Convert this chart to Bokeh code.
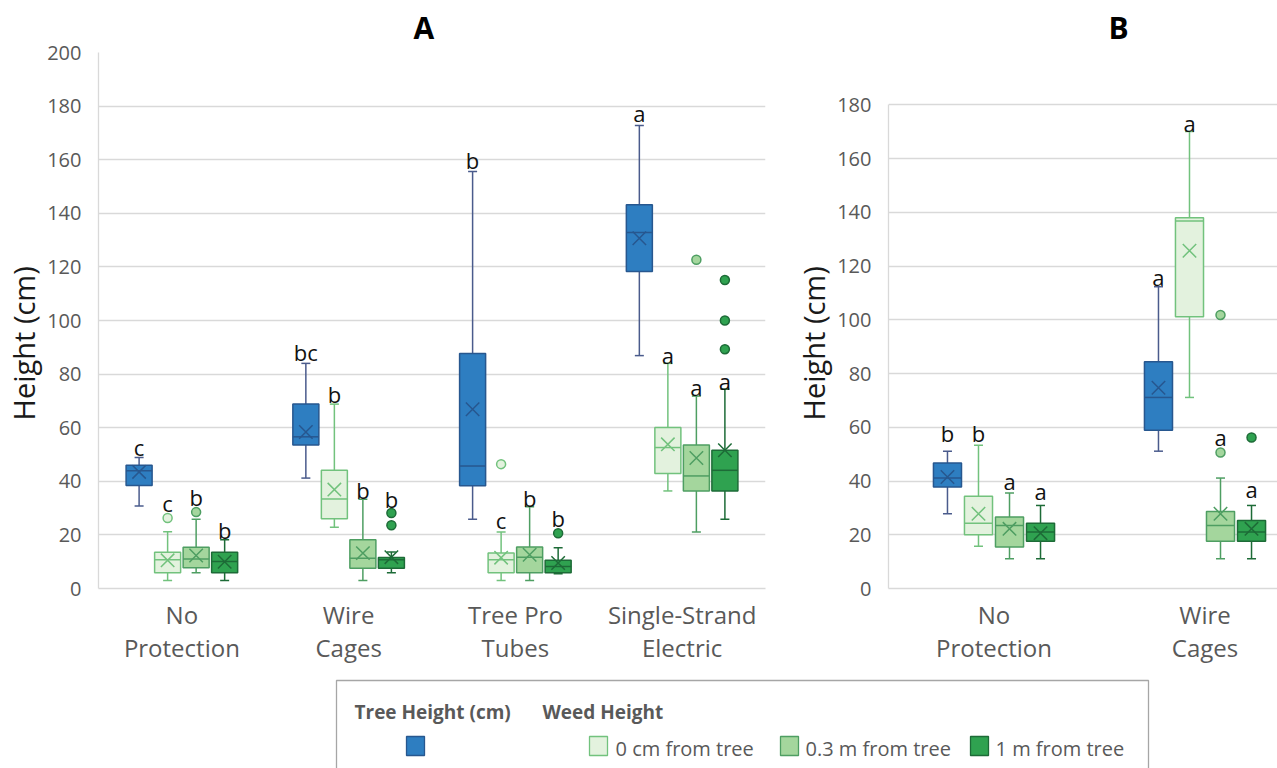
from bokeh.plotting import figure
from bokeh.layouts import column, row
from bokeh.models import Range1d, FixedTicker, Title, ColumnDataSource
from bokeh.core.properties import value
from bokeh.embed import file_html
from bokeh.resources import INLINE

FONT = "Open Sans"
GRID = "#d9d9d9"
TICK_TEXT = "#595959"

series_names = ["Tree Height (cm)", "0 cm from tree", "0.3 m from tree", "1 m from tree"]
fill_colors = ["#2E7EC1", "#E3F2DE", "#A4D69D", "#2FA250"]
edge_colors = ["#27578F", "#72C27D", "#4E9E62", "#1D6B37"]
whisker_colors = ["#4A5B8C", "#72C27D", "#4E9E62", "#1D6B37"]

# ---------------- Panel A: all four protection types ----------------
a_categories = ["No Protection", "Wire Cages", "Tree Pro Tubes", "Single-Strand Electric"]
a_tick_labels = ["No\nProtection", "Wire\nCages", "Tree Pro\nTubes", "Single-Strand\nElectric"]

a_tree_low = [30.8, 41.2, 25.8, 86.9]
a_tree_q1 = [38.4, 53.5, 38.3, 118.3]
a_tree_med = [43.9, 56.6, 45.7, 132.8]
a_tree_q3 = [46.0, 68.8, 87.7, 143.2]
a_tree_high = [48.9, 84.0, 155.6, 172.8]
a_tree_mean = [43.5, 58.4, 66.9, 130.7]
a_tree_letters = ["c", "bc", "b", "a"]
a_tree_letter_y = [52.7, 88.3, 160.0, 177.4]
a_tree_out_cat = []
a_tree_out_val = []

a_w0_low = [3.0, 22.9, 3.0, 36.4]
a_w0_q1 = [5.9, 26.0, 5.9, 42.9]
a_w0_med = [10.7, 33.4, 10.7, 52.6]
a_w0_q3 = [13.5, 44.1, 13.2, 60.1]
a_w0_high = [21.2, 68.8, 21.1, 84.0]
a_w0_mean = [10.5, 36.9, 11.5, 53.8]
a_w0_letters = ["c", "b", "c", "a"]
a_w0_letter_y = [31.9, 72.5, 25.4, 87.1]
a_w0_out_cat = [0, 2]
a_w0_out_val = [26.3, 46.4]

a_w03_low = [5.9, 3.0, 3.0, 21.1]
a_w03_q1 = [7.7, 7.6, 5.9, 36.4]
a_w03_med = [11.0, 11.3, 11.7, 42.0]
a_w03_q3 = [15.4, 18.2, 15.5, 53.5]
a_w03_high = [25.8, 33.3, 30.5, 71.8]
a_w03_mean = [12.3, 13.2, 12.6, 48.7]
a_w03_letters = ["b", "b", "b", "a"]
a_w03_letter_y = [34.1, 36.9, 33.9, 75.3]
a_w03_out_cat = [0, 3]
a_w03_out_val = [28.5, 122.7]

a_w1_low = [3.0, 5.9, 5.5, 25.8]
a_w1_q1 = [5.9, 7.6, 5.9, 36.4]
a_w1_med = [10.1, 10.7, 8.2, 44.1]
a_w1_q3 = [13.5, 11.6, 10.5, 51.6]
a_w1_high = [18.2, 13.6, 15.2, 74.4]
a_w1_mean = [10.0, 11.7, 9.5, 51.6]
a_w1_letters = ["b", "b", "b", "a"]
a_w1_letter_y = [21.9, 33.5, 26.4, 77.4]
a_w1_out_cat = [1, 1, 2, 3, 3, 3]
a_w1_out_val = [28.2, 23.6, 20.6, 115.1, 100.0, 89.3]

# ---------------- Panel B: no protection vs. wire cages ----------------
b_categories = ["No Protection", "Wire Cages"]
b_tick_labels = ["No\nProtection", "Wire\nCages"]

b_tree_low = [27.8, 51.1]
b_tree_q1 = [37.8, 58.9]
b_tree_med = [41.1, 71.1]
b_tree_q3 = [46.7, 84.4]
b_tree_high = [51.1, 112.3]
b_tree_mean = [41.5, 74.7]
b_tree_letters = ["b", "a"]
b_tree_letter_y = [57.7, 116.0]
b_tree_out_cat = []
b_tree_out_val = []

b_w0_low = [15.7, 71.1]
b_w0_q1 = [20.0, 101.1]
b_w0_med = [24.3, 136.8]
b_w0_q3 = [34.3, 138.0]
b_w0_high = [53.3, 170.1]
b_w0_mean = [27.8, 125.7]
b_w0_letters = ["b", "a"]
b_w0_letter_y = [58.0, 173.4]
b_w0_out_cat = []
b_w0_out_val = []

b_w03_low = [11.1, 11.1]
b_w03_q1 = [15.4, 17.6]
b_w03_med = [23.4, 23.4]
b_w03_q3 = [26.6, 28.7]
b_w03_high = [35.5, 41.1]
b_w03_mean = [22.2, 27.8]
b_w03_letters = ["a", "a"]
b_w03_letter_y = [40.0, 56.4]
b_w03_out_cat = [1, 1]
b_w03_out_val = [101.8, 50.6]

b_w1_low = [11.1, 11.1]
b_w1_q1 = [17.6, 17.6]
b_w1_med = [21.0, 21.0]
b_w1_q3 = [24.3, 25.3]
b_w1_high = [30.9, 30.9]
b_w1_mean = [20.6, 22.2]
b_w1_letters = ["a", "a"]
b_w1_letter_y = [36.2, 37.2]
b_w1_out_cat = [1]
b_w1_out_val = [56.2]


def pack(low, q1, med, q3, high, mean, letters, letter_y, out_cat, out_val):
    return dict(low=low, q1=q1, med=med, q3=q3, high=high, mean=mean,
                letters=letters, letter_y=letter_y, out_cat=out_cat, out_val=out_val)


a_stats = [
    pack(a_tree_low, a_tree_q1, a_tree_med, a_tree_q3, a_tree_high, a_tree_mean,
         a_tree_letters, a_tree_letter_y, a_tree_out_cat, a_tree_out_val),
    pack(a_w0_low, a_w0_q1, a_w0_med, a_w0_q3, a_w0_high, a_w0_mean,
         a_w0_letters, a_w0_letter_y, a_w0_out_cat, a_w0_out_val),
    pack(a_w03_low, a_w03_q1, a_w03_med, a_w03_q3, a_w03_high, a_w03_mean,
         a_w03_letters, a_w03_letter_y, a_w03_out_cat, a_w03_out_val),
    pack(a_w1_low, a_w1_q1, a_w1_med, a_w1_q3, a_w1_high, a_w1_mean,
         a_w1_letters, a_w1_letter_y, a_w1_out_cat, a_w1_out_val),
]
b_stats = [
    pack(b_tree_low, b_tree_q1, b_tree_med, b_tree_q3, b_tree_high, b_tree_mean,
         b_tree_letters, b_tree_letter_y, b_tree_out_cat, b_tree_out_val),
    pack(b_w0_low, b_w0_q1, b_w0_med, b_w0_q3, b_w0_high, b_w0_mean,
         b_w0_letters, b_w0_letter_y, b_w0_out_cat, b_w0_out_val),
    pack(b_w03_low, b_w03_q1, b_w03_med, b_w03_q3, b_w03_high, b_w03_mean,
         b_w03_letters, b_w03_letter_y, b_w03_out_cat, b_w03_out_val),
    pack(b_w1_low, b_w1_q1, b_w1_med, b_w1_q3, b_w1_high, b_w1_mean,
         b_w1_letters, b_w1_letter_y, b_w1_out_cat, b_w1_out_val),
]

HEIGHT = 672
FRAME_TOP = 52
FRAME_BOTTOM = 84


def make_panel(title, tick_labels, stats, y_max, y_view, width, border_left, border_right,
               x_end, step, box_w, title_offset):
    n = len(tick_labels)
    p = figure(width=width, height=HEIGHT, x_range=Range1d(-0.5, x_end), y_range=Range1d(0, y_view),
               output_backend="svg", toolbar_location=None,
               min_border_left=border_left, min_border_right=border_right,
               min_border_top=FRAME_TOP, min_border_bottom=FRAME_BOTTOM)
    p.outline_line_color = None
    p.background_fill_color = "white"
    p.border_fill_color = "white"
    p.xgrid.visible = False
    p.ygrid.grid_line_color = GRID
    p.ygrid.grid_line_width = 1.3

    yt = FixedTicker(ticks=list(range(0, y_max + 1, 20)))
    p.yaxis.ticker = yt
    p.ygrid.ticker = yt
    p.yaxis.bounds = (0, y_max)
    p.yaxis.axis_line_color = GRID
    p.yaxis.axis_line_width = 1.3
    p.yaxis.major_tick_line_color = None
    p.yaxis.minor_tick_line_color = None
    p.yaxis.major_label_text_font = FONT
    p.yaxis.major_label_text_font_size = "20px"
    p.yaxis.major_label_text_color = TICK_TEXT
    p.yaxis.major_label_standoff = 11

    p.xaxis.ticker = FixedTicker(ticks=list(range(n)))
    p.xaxis.major_label_overrides = {i: t for i, t in enumerate(tick_labels)}
    p.xaxis.axis_line_color = GRID
    p.xaxis.axis_line_width = 1.3
    p.xaxis.major_tick_line_color = None
    p.xaxis.minor_tick_line_color = None
    p.xaxis.major_label_text_font = FONT
    p.xaxis.major_label_text_font_size = "24px"
    p.xaxis.major_label_text_color = TICK_TEXT
    p.xaxis.major_label_text_line_height = 1.0
    p.xaxis.major_label_standoff = 3

    for k, s in enumerate(stats):
        xs = [i + (k - 1.5) * step for i in range(n)]
        src = ColumnDataSource(dict(
            x=xs, xl=[x - box_w / 2 for x in xs], xr=[x + box_w / 2 for x in xs],
            low=s["low"], q1=s["q1"], med=s["med"], q3=s["q3"], high=s["high"], mean=s["mean"],
        ))
        wc = whisker_colors[k]
        p.segment(x0="x", y0="q3", x1="x", y1="high", source=src, line_color=wc, line_width=1.5)
        p.segment(x0="x", y0="low", x1="x", y1="q1", source=src, line_color=wc, line_width=1.5)
        p.scatter(x="x", y="high", source=src, marker="dash", size=9, line_color=wc, line_width=1.5)
        p.scatter(x="x", y="low", source=src, marker="dash", size=9, line_color=wc, line_width=1.5)
        p.vbar(x="x", width=box_w, bottom="q1", top="q3", source=src,
               fill_color=fill_colors[k], line_color=edge_colors[k], line_width=1.5)
        p.segment(x0="xl", y0="med", x1="xr", y1="med", source=src,
                  line_color=edge_colors[k], line_width=1.5)
        p.scatter(x="x", y="mean", source=src, marker="x", size=19,
                  line_color=edge_colors[k], line_width=1.5)
        if s["out_val"]:
            p.scatter(x=[c + (k - 1.5) * step for c in s["out_cat"]], y=s["out_val"],
                      marker="circle", size=9, fill_color=fill_colors[k],
                      line_color=edge_colors[k], line_width=1.5)
        p.text(x=xs, y=s["letter_y"], text=s["letters"], text_font=value(FONT),
               text_font_size="22px", text_color="#111111", text_align="center",
               text_baseline="alphabetic")

    p.add_layout(Title(text=title, align="left", offset=title_offset, standoff=9,
                       text_font=FONT, text_font_size="30px", text_font_style="bold",
                       text_color="#000000"), "above")
    p.add_layout(Title(text="Height (cm)", align="left", offset=168, standoff=3,
                       text_font=FONT, text_font_size="29px", text_font_style="normal",
                       text_color="#1a1a1a"), "left")
    return p


# panel B shares the frame height of panel A; its 0-180 scale leaves headroom above 180
b_view_top = 180 * (HEIGHT - FRAME_TOP - FRAME_BOTTOM) / (588 - 104.3)

pa = make_panel("A", a_tick_labels, a_stats, 200, 200, 780, 98, 15, 3.5, 0.171, 0.156, 315)
pb = make_panel("B", b_tick_labels, b_stats, 180, b_view_top, 497, 108, 0,
                -0.5 + 389 / 211, 0.147, 0.133, 220)

# Legend strip underneath both panels
leg = figure(width=1277, height=96, x_range=Range1d(0, 1277), y_range=Range1d(96, 0),
             output_backend="svg", toolbar_location=None,
             min_border_left=0, min_border_right=0, min_border_top=0, min_border_bottom=0)
leg.axis.visible = False
leg.grid.visible = False
leg.outline_line_color = None
leg.quad(left=[336], right=[1148], top=[8], bottom=[120], fill_color="white",
         line_color="#a6a6a6", line_width=1.3)
leg.text(x=[354, 542], y=[39, 39], text=["Tree Height (cm)", "Weed Height"],
         text_font=value(FONT), text_font_size="19px", text_font_style="bold",
         text_color=TICK_TEXT, text_baseline="alphabetic")
sw_left = [406, 589, 780, 970]
sw_text_x = [None, 615, 805, 995]
for k in range(4):
    leg.quad(left=[sw_left[k]], right=[sw_left[k] + 18], top=[64], bottom=[83],
             fill_color=fill_colors[k], line_color=edge_colors[k], line_width=1.3)
    if k > 0:
        leg.text(x=[sw_text_x[k]], y=[76], text=[series_names[k]], text_font=value(FONT),
                 text_font_size="20px", text_color=TICK_TEXT, text_baseline="alphabetic")

layout = column(row(pa, pb, spacing=0), leg, spacing=0)
open("out.html", "w").write(file_html(layout, INLINE))
